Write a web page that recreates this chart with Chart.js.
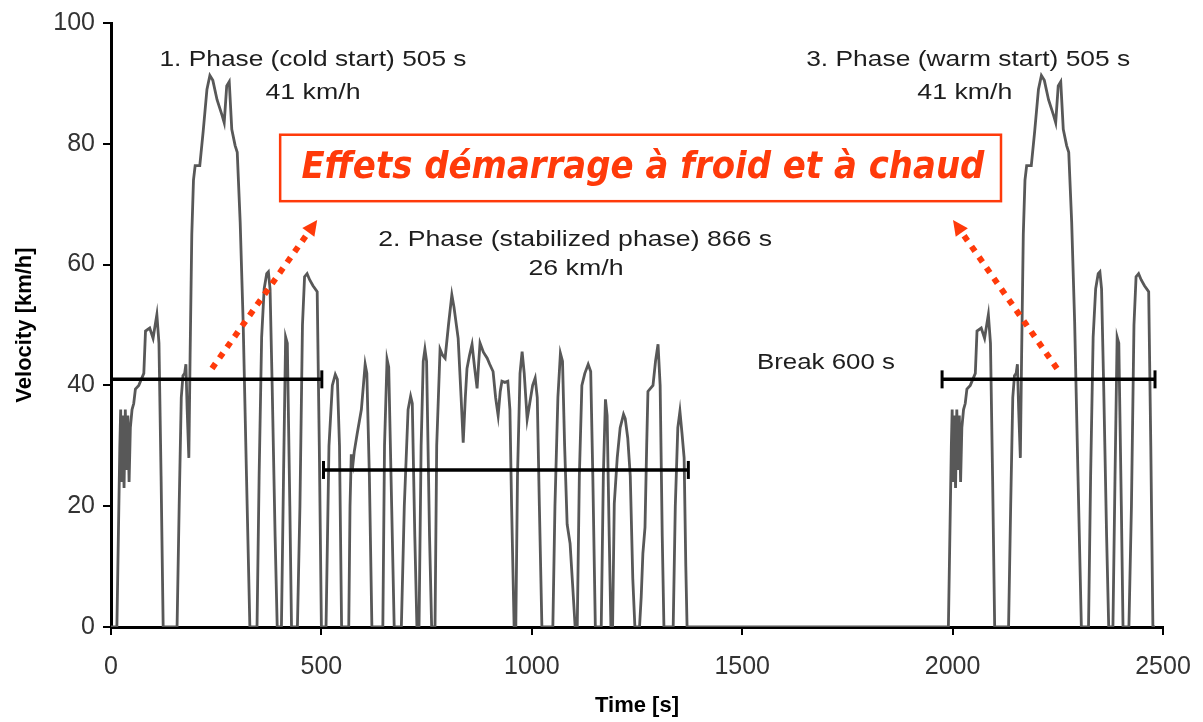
<!DOCTYPE html>
<html>
<head>
<meta charset="utf-8">
<title>FTP-75 driving cycle</title>
<script src="https://cdn.jsdelivr.net/npm/chart.js@4.4.1/dist/chart.umd.min.js"></script>
<style>
  html, body { margin: 0; padding: 0; background: #fff; }
  #chart { display: block; }
</style>
</head>
<body>
<canvas id="chart" width="1203" height="722"></canvas>
<script>
// -------------------------------------------------------------
// DATA  (time [s], velocity [km/h])
// -------------------------------------------------------------
const phase1 = [
  [0, 0], [14, 0], [21, 30], [23, 36], [25, 24], [28, 35], [31, 23], [34, 36], [37, 26], [40, 35],
  [43, 24], [46, 33], [50, 36], [54, 37], [58, 39.4], [66, 40], [72, 41], [78, 42], [82, 49], [92, 49.5],
  [100, 47.8], [105, 50], [109, 51.7], [114, 47], [119, 25], [124, 0], [157, 0], [162, 20], [167, 38],
  [171, 41.6], [175, 42], [178, 43.5], [181, 36], [185, 28], [188, 45], [192, 65], [196, 74], [200, 76.4],
  [211, 76.4], [219, 82], [228, 89], [235, 91.3], [242, 90.5], [252, 87.3], [264, 84.7], [269, 83.5],
  [275, 89.6], [281, 90.3], [287, 82.4], [295, 79.7], [300, 78.6], [307, 67], [314, 50.6], [322, 25],
  [330, 0], [347, 0], [352, 25], [358, 48], [364, 56], [370, 58.5], [374, 58.8], [378, 56], [383, 40],
  [390, 15], [395, 0], [405, 0], [410, 25], [415, 48], [419, 47], [425, 20], [429, 0], [443, 0],
  [449, 20], [455, 50], [460, 58], [466, 58.5], [472, 57.5], [480, 56.5], [490, 55.5], [495, 30],
  [500, 0], [505, 0]
];

const phase2 = [
  [511, 0], [518, 30], [526, 40], [533, 41.8], [538, 41], [543, 30], [548, 0],
  [565, 0], [568, 20], [571, 28.6], [575, 27], [578, 29], [585, 32], [595, 36], [604, 43.5], [608, 42], [614, 25], [620, 0],
  [646, 0], [650, 30], [656, 44.3], [660, 43], [667, 20], [673, 0],
  [690, 0], [697, 20], [706, 36], [712, 38.2], [716, 37], [722, 15], [727, 0],
  [732, 0], [737, 30], [742, 44], [746, 46], [750, 44], [757, 15], [762, 0],
  [770, 0], [774, 30], [782, 46], [788, 45], [794, 44.5], [802, 50], [810, 55], [815, 53], [825, 47.8],
  [832, 38], [837, 30.5], [842, 38], [846, 42.8], [852, 45], [858, 46.8], [864, 43], [870, 39.5],
  [874, 44], [877, 47], [885, 45.5], [894, 44.5], [900, 43.5], [908, 42.3], [914, 38], [920, 35],
  [925, 39], [929, 40.7], [936, 40.5], [943, 40.7], [948, 36], [952, 20], [958, 0],
  [962, 0], [966, 25], [972, 42], [977, 45.6], [982, 42], [989, 34.4], [995, 37], [1002, 40], [1008, 41.2],
  [1013, 38], [1018, 20], [1024, 0],
  [1050, 0], [1055, 20], [1062, 38], [1068, 45.3], [1073, 44], [1078, 30], [1084, 17], [1091, 13.8], [1097, 7], [1103, 0],
  [1108, 0], [1113, 25], [1119, 40], [1126, 42], [1134, 43.5], [1140, 42.3], [1145, 25], [1151, 0],
  [1165, 0], [1170, 25], [1175, 37.7], [1179, 35], [1184, 15], [1188, 0],
  [1192, 0], [1196, 20.4], [1203, 28], [1210, 33], [1218, 35.2], [1222, 34.5], [1228, 31.3], [1234, 25], [1240, 8], [1245, 0],
  [1256, 0], [1260, 5], [1264, 12.2], [1269, 16.5], [1273, 30], [1276, 39], [1282, 39.5], [1288, 40], [1294, 44],
  [1300, 46.8], [1305, 40], [1310, 15], [1314, 0],
  [1336, 0], [1341, 20], [1347, 33], [1352, 35.7], [1357, 32], [1362, 28], [1366, 10], [1369, 0], [1372, 0]
];

const phase3 = [
  [1976, 0], [1990, 0], [1997, 30], [1999, 36], [2001, 24], [2004, 35], [2007, 23], [2010, 36], [2013, 26],
  [2016, 35], [2019, 24], [2022, 33], [2026, 36], [2030, 37], [2034, 39.4], [2042, 40], [2048, 41], [2054, 42],
  [2058, 49], [2068, 49.5], [2076, 47.8], [2081, 50], [2085, 51.7], [2090, 47], [2095, 25], [2100, 0],
  [2133, 0], [2138, 20], [2143, 38], [2147, 41.6], [2151, 42], [2154, 43.5], [2157, 36], [2161, 28],
  [2164, 45], [2168, 65], [2172, 74], [2176, 76.4], [2187, 76.4], [2195, 82], [2204, 89], [2211, 91.3],
  [2218, 90.5], [2228, 87.3], [2240, 84.7], [2245, 83.5], [2251, 89.6], [2257, 90.3], [2263, 82.4],
  [2271, 79.7], [2276, 78.6], [2283, 67], [2290, 50.6], [2298, 25], [2306, 0], [2323, 0], [2328, 25],
  [2334, 48], [2340, 56], [2346, 58.5], [2350, 58.8], [2354, 56], [2359, 40], [2366, 15], [2371, 0],
  [2381, 0], [2386, 25], [2391, 48], [2395, 47], [2401, 20], [2405, 0], [2419, 0], [2425, 20], [2431, 50],
  [2436, 58], [2442, 58.5], [2448, 57.5], [2456, 56.5], [2466, 55.5], [2471, 30], [2476, 0], [2481, 0]
];

// mean speed bars of each phase
const bar1 = [[0, 41], [501, 41]];
const bar2 = [[505, 26], [1372, 26]];
const bar3 = [[1975, 41], [2481, 41]];

const xTicks = [0, 500, 1000, 1500, 2000, 2500];
const yTicks = [0, 20, 40, 60, 80, 100];

// -------------------------------------------------------------
// ANNOTATIONS (data units; w = drawn text width in px)
// -------------------------------------------------------------
const notes = [
  { text: "1. Phase (cold start) 505 s", x: 480, y: 93.9, w: 307 },
  { text: "41 km/h", x: 480, y: 88.5, w: 95 },
  { text: "2. Phase (stabilized phase) 866 s", x: 1103, y: 64.1, w: 394 },
  { text: "26 km/h", x: 1105, y: 59.3, w: 95 },
  { text: "3. Phase (warm start) 505 s", x: 2037, y: 93.9, w: 324 },
  { text: "41 km/h", x: 2029, y: 88.5, w: 95 },
  { text: "Break 600 s", x: 1699, y: 43.8, w: 138 }
];
const redNote = { text: "Effets démarrage à froid et à chaud", x: 1264, y: 75.9, w: 683 };
const redBox = { x1: 402, x2: 2115, y1: 81.5, y2: 70.5 };
const arrows = [
  { from: [240, 42.8], to: [490, 67.4] },
  { from: [2248, 42.8], to: [2001, 67.4] }
];

const FONT = '"Liberation Sans", Arial, Helvetica, sans-serif';
const RED = "#ff3a0a";

const toXY = arr => arr.map(p => ({ x: p[0], y: p[1] }));

function fittedText(ctx, text, cx, cy, font, width, color) {
  ctx.save();
  ctx.font = font;
  ctx.fillStyle = color;
  ctx.textAlign = "center";
  ctx.textBaseline = "middle";
  const s = width / ctx.measureText(text).width;
  ctx.translate(cx, cy);
  ctx.scale(s, 1);
  ctx.fillText(text, 0, 0);
  ctx.restore();
}

function dottedArrow(ctx, x1, y1, x2, y2) {
  const ang = Math.atan2(y2 - y1, x2 - x1);
  const head = 17;
  const ex = x2 - Math.cos(ang) * head * 0.8;
  const ey = y2 - Math.sin(ang) * head * 0.8;
  ctx.save();
  ctx.strokeStyle = RED;
  ctx.fillStyle = RED;
  ctx.lineWidth = 6;
  ctx.setLineDash([6, 7]);
  ctx.beginPath();
  ctx.moveTo(x1, y1);
  ctx.lineTo(ex, ey);
  ctx.stroke();
  ctx.setLineDash([]);
  ctx.beginPath();
  ctx.moveTo(x2, y2);
  ctx.lineTo(x2 - head * Math.cos(ang - 0.45), y2 - head * Math.sin(ang - 0.45));
  ctx.lineTo(x2 - head * Math.cos(ang + 0.45), y2 - head * Math.sin(ang + 0.45));
  ctx.closePath();
  ctx.fill();
  ctx.restore();
}

const annotate = {
  id: "annotate",
  afterDraw(chart) {
    const { ctx, scales: { x, y } } = chart;
    notes.forEach(n => {
      fittedText(ctx, n.text, x.getPixelForValue(n.x), y.getPixelForValue(n.y), "22px " + FONT, n.w, "#1e1e1e");
    });

    const bx1 = x.getPixelForValue(redBox.x1), bx2 = x.getPixelForValue(redBox.x2);
    const by1 = y.getPixelForValue(redBox.y1), by2 = y.getPixelForValue(redBox.y2);
    ctx.save();
    ctx.fillStyle = "#fff";
    ctx.fillRect(bx1, by1, bx2 - bx1, by2 - by1);
    ctx.strokeStyle = RED;
    ctx.lineWidth = 2.5;
    ctx.strokeRect(bx1, by1, bx2 - bx1, by2 - by1);
    ctx.restore();
    fittedText(ctx, redNote.text, x.getPixelForValue(redNote.x), y.getPixelForValue(redNote.y),
      'italic bold 38px "Comic Sans MS", "DejaVu Sans", sans-serif', redNote.w, RED);

    arrows.forEach(a => {
      dottedArrow(ctx,
        x.getPixelForValue(a.from[0]), y.getPixelForValue(a.from[1]),
        x.getPixelForValue(a.to[0]), y.getPixelForValue(a.to[1]));
    });
  }
};

const barStyle = {
  borderColor: "#000",
  borderWidth: 3.5,
  pointStyle: "line",
  rotation: 90,
  pointBorderColor: "#000",
  pointBorderWidth: 3,
  pointRadius: 9,
  order: 0
};

new Chart(document.getElementById("chart"), {
  type: "line",
  data: {
    datasets: [
      {
        label: "Velocity",
        data: toXY(phase1.concat(phase2, phase3)),
        borderColor: "#585858",
        borderWidth: 2.8,
        pointRadius: 0,
        tension: 0,
        order: 1
      },
      Object.assign({ data: toXY(bar1) }, barStyle, { pointRadius: [0, 9] }),
      Object.assign({ data: toXY(bar2) }, barStyle),
      Object.assign({ data: toXY(bar3) }, barStyle)
    ]
  },
  options: {
    responsive: false,
    animation: false,
    events: [],
    layout: { padding: { top: 20, right: 40, left: 0, bottom: 0 } },
    plugins: { legend: { display: false }, tooltip: { enabled: false } },
    scales: {
      x: {
        type: "linear",
        min: 0,
        max: 2500,
        afterBuildTicks: s => { s.ticks = xTicks.map(v => ({ value: v })); },
        afterFit: s => { s.height = 95; s.paddingLeft = 0; s.paddingRight = 0; },
        border: { color: "#000", width: 3 },
        grid: { drawOnChartArea: false, color: "#000", lineWidth: 2, tickLength: 8 },
        ticks: { color: "#333", font: { family: FONT, size: 25 }, padding: 17, maxRotation: 0,
                 callback: v => String(v) },
        title: { display: true, text: "Time [s]", color: "#000",
                 font: { family: FONT, size: 22, weight: "bold" }, padding: { top: 0, bottom: 3 } }
      },
      y: {
        min: 0,
        max: 100,
        afterBuildTicks: s => { s.ticks = yTicks.map(v => ({ value: v })); },
        afterFit: s => { s.width = 111; },
        border: { color: "#000", width: 3 },
        grid: { drawOnChartArea: false, color: "#000", lineWidth: 2, tickLength: 8 },
        ticks: { color: "#333", font: { family: FONT, size: 25 }, padding: 8, callback: v => String(v) },
        title: { display: true, text: "Velocity [km/h]", color: "#000",
                 font: { family: FONT, size: 22, weight: "bold" }, padding: { top: 12, bottom: 0 } }
      }
    }
  },
  plugins: [annotate]
});
</script>
</body>
</html>
